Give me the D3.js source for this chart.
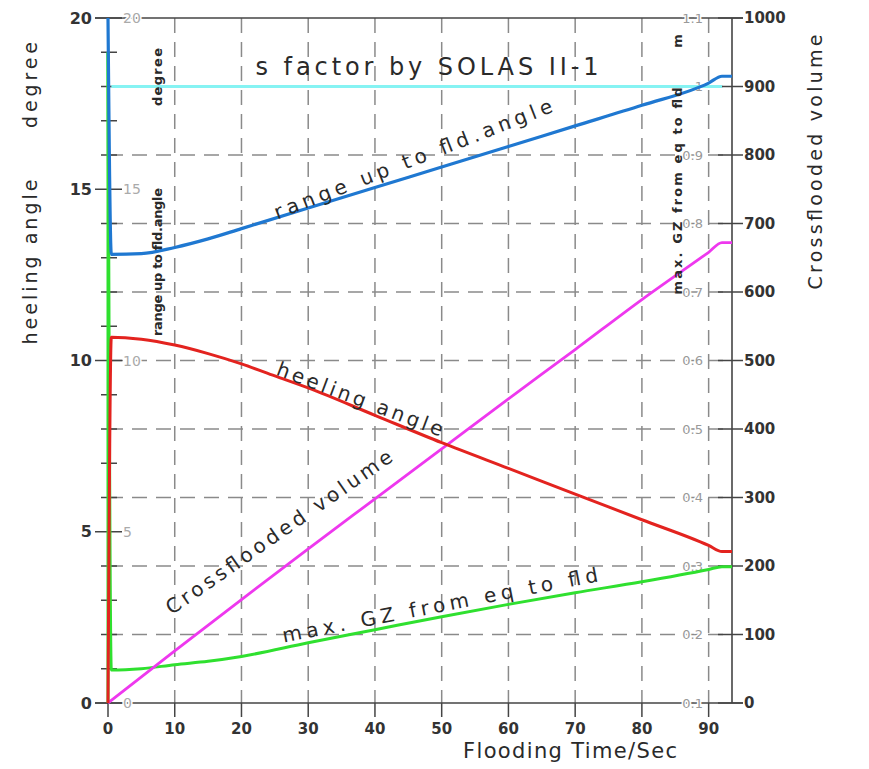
<!DOCTYPE html>
<html>
<head>
<meta charset="utf-8">
<script src="https://cdn.jsdelivr.net/npm/d3@7"></script>
<style>
  body { margin: 0; background: #fff; }
  text { font-family: "DejaVu Sans", sans-serif; }
</style>
</head>
<body>
<svg id="chart" width="869" height="769"></svg>
<script>
// flooding time (sec) ticks and axis values
var timeTicks = [0, 10, 20, 30, 40, 50, 60, 70, 80, 90];
var degTicks = [0, 5, 10, 15, 20];
var degMinor = [1, 2, 3, 4, 6, 7, 8, 9, 11, 12, 13, 14, 16, 17, 18, 19];
var degGrid = [2, 4, 6, 8, 10, 12, 14, 16, 18];
var volTicks = [0, 100, 200, 300, 400, 500, 600, 700, 800, 900, 1000];
var gzTicks = [0.1, 0.2, 0.3, 0.4, 0.5, 0.6, 0.7, 0.8, 0.9, 1.0, 1.1];
var gzLabels = ["0.1", "0.2", "0.3", "0.4", "0.5", "0.6", "0.7", "0.8", "0.9", "1", "1.1"];

// series: [time, value]
var sFactor = [[0.5, 18], [92, 18]];                       // degree axis
var rangeUpToFld = [[0, 20], [0.5, 13.1], [5, 13.12], [10, 13.3], [15, 13.55], [20, 13.85],
  [30, 14.45], [40, 15.05], [50, 15.65], [60, 16.25], [70, 16.85], [80, 17.45],
  [90, 18.1], [92, 18.3], [93.5, 18.3]];                    // degree axis
var heelingAngle = [[0, 0], [0.5, 10.68], [5, 10.62], [10, 10.45], [15, 10.2], [20, 9.9],
  [25, 9.55], [30, 9.2], [40, 8.4], [50, 7.6], [60, 6.85], [70, 6.1], [80, 5.35],
  [90, 4.6], [92, 4.42], [93.5, 4.42]];                     // degree axis
var crossVolume = [[0, 0], [10, 76], [20, 151], [30, 225], [40, 298], [50, 371],
  [60, 444], [70, 516], [80, 589], [90, 658], [92, 672], [93.5, 672]]; // volume axis
var gzRise = [[0, 0.1], [0, 1.05]];                         // GZ axis (m), at t = 0
var maxGZ = [[0, 1.05], [0.5, 0.148], [5, 0.15], [10, 0.156], [15, 0.161],
  [20, 0.168], [30, 0.188], [40, 0.207], [50, 0.226], [60, 0.244], [70, 0.261],
  [80, 0.277], [90, 0.295], [92, 0.299], [93.5, 0.299]];   // GZ axis (m)

var svg = d3.select("#chart");
var plotL = 108, plotR = 732, plotT = 18, plotB = 703;

var x = d3.scaleLinear().domain([0, 93.5]).range([plotL, plotR]);
var yDeg = d3.scaleLinear().domain([0, 20]).range([plotB, plotT]);
var yVol = d3.scaleLinear().domain([0, 1000]).range([plotB, plotT]);
var yGZ = d3.scaleLinear().domain([0.1, 1.1]).range([plotB, plotT]);

var axisColor = "#444";
var gridColor = "#8a8a8a";

// grid
svg.append("g").selectAll("line").data(timeTicks.slice(1)).join("line")
  .attr("x1", d => x(d)).attr("x2", d => x(d))
  .attr("y1", plotT).attr("y2", plotB)
  .attr("stroke", gridColor).attr("stroke-width", 1.5)
  .attr("stroke-dasharray", "15,9");

svg.append("g").selectAll("line").data(degGrid).join("line")
  .attr("x1", plotL).attr("x2", plotR)
  .attr("y1", d => yDeg(d)).attr("y2", d => yDeg(d))
  .attr("stroke", gridColor).attr("stroke-width", 1.5)
  .attr("stroke-dasharray", "15,9");

// frame
svg.append("line").attr("x1", 95).attr("x2", 743).attr("y1", plotT).attr("y2", plotT)
  .attr("stroke", axisColor).attr("stroke-width", 1.6);
svg.append("line").attr("x1", 95).attr("x2", 743).attr("y1", plotB).attr("y2", plotB)
  .attr("stroke", axisColor).attr("stroke-width", 1.6);
svg.append("line").attr("x1", plotL).attr("x2", plotL).attr("y1", plotT).attr("y2", plotB)
  .attr("stroke", axisColor).attr("stroke-width", 1.6);
svg.append("line").attr("x1", plotR).attr("x2", plotR).attr("y1", plotT).attr("y2", plotB)
  .attr("stroke", axisColor).attr("stroke-width", 1.6);

// left degree axis ticks
svg.append("g").selectAll("line").data(degMinor).join("line")
  .attr("x1", 101).attr("x2", 117)
  .attr("y1", d => yDeg(d)).attr("y2", d => yDeg(d))
  .attr("stroke", axisColor).attr("stroke-width", 1.5);
svg.append("g").selectAll("line").data(degTicks).join("line")
  .attr("x1", 95).attr("x2", 122)
  .attr("y1", d => yDeg(d)).attr("y2", d => yDeg(d))
  .attr("stroke", axisColor).attr("stroke-width", 1.5);
svg.append("g").selectAll("text").data(degTicks).join("text")
  .attr("x", 92).attr("y", d => yDeg(d))
  .attr("text-anchor", "end").attr("dominant-baseline", "central")
  .attr("font-size", 16).attr("font-weight", "bold").attr("fill", "#333")
  .text(d => d);
svg.append("g").selectAll("text").data(degTicks).join("text")
  .attr("x", 123).attr("y", d => yDeg(d))
  .attr("dominant-baseline", "central")
  .attr("font-size", 14).attr("fill", "#aaa")
  .attr("stroke", "#fff").attr("stroke-width", 3).attr("paint-order", "stroke")
  .text(d => d);

// x axis
svg.append("g").selectAll("line").data(timeTicks).join("line")
  .attr("x1", d => x(d)).attr("x2", d => x(d))
  .attr("y1", plotB).attr("y2", 717)
  .attr("stroke", axisColor).attr("stroke-width", 1.5);
svg.append("g").selectAll("text").data(timeTicks).join("text")
  .attr("x", d => x(d)).attr("y", 729)
  .attr("text-anchor", "middle").attr("dominant-baseline", "central")
  .attr("font-size", 15).attr("font-weight", "bold").attr("fill", "#333")
  .text(d => d);

// right volume axis
svg.append("g").selectAll("line").data(volTicks).join("line")
  .attr("x1", 718).attr("x2", 743)
  .attr("y1", d => yVol(d)).attr("y2", d => yVol(d))
  .attr("stroke", axisColor).attr("stroke-width", 1.5);
svg.append("g").selectAll("text").data(volTicks).join("text")
  .attr("x", 744).attr("y", d => yVol(d))
  .attr("dominant-baseline", "central")
  .attr("font-size", 15).attr("font-weight", "bold").attr("fill", "#333")
  .text(d => d);

// inner GZ axis labels
svg.append("g").selectAll("text").data(gzTicks).join("text")
  .attr("x", 703).attr("y", d => yGZ(d))
  .attr("text-anchor", "end").attr("dominant-baseline", "central")
  .attr("font-size", 13).attr("fill", "#999")
  .attr("stroke", "#fff").attr("stroke-width", 3).attr("paint-order", "stroke")
  .text((d, i) => gzLabels[i]);

// curves
function drawLine(data, yScale, color, width, curve) {
  svg.append("path").datum(data)
    .attr("fill", "none").attr("stroke", color)
    .attr("stroke-width", width).attr("stroke-linejoin", "round")
    .attr("d", d3.line().curve(curve || d3.curveLinear)
      .x(d => x(d[0])).y(d => yScale(d[1])));
}
drawLine(sFactor, yDeg, "#86f3f3", 3);
drawLine(gzRise, yGZ, "#2fe02f", 3);
drawLine(maxGZ, yGZ, "#2fe02f", 3, d3.curveMonotoneX);
drawLine(crossVolume, yVol, "#ee38ee", 2.8, d3.curveMonotoneX);
drawLine(heelingAngle, yDeg, "#e3231f", 3, d3.curveMonotoneX);
drawLine(rangeUpToFld, yDeg, "#1f78d1", 3.2, d3.curveMonotoneX);

// texts
function label(txt, cx, cy, angle, size, len, opts) {
  opts = opts || {};
  svg.append("text")
    .attr("transform", "translate(" + cx + "," + cy + ") rotate(" + angle + ")")
    .attr("text-anchor", "middle").attr("dominant-baseline", "central")
    .attr("font-size", size)
    .attr("font-weight", opts.bold ? "bold" : "normal")
    .attr("fill", opts.fill || "#2a2a2a")
    .attr("textLength", len).attr("lengthAdjust", "spacing")
    .text(txt);
}
label("s factor by SOLAS II-1", 427, 67, 0, 24, 343);
label("Flooding Time/Sec", 570, 751, 0, 21, 214);
label("degree", 30, 85, -90, 19, 86);
label("heeling angle", 30, 262, -90, 19, 165);
label("Crossflooded volume", 815, 162, -90, 19, 255);
label("degree", 157, 77, -90, 13, 58, {bold: true});
label("range up to fld.angle", 157, 262, -90, 13, 148, {bold: true});
label("m", 677, 41, -90, 13, 10, {bold: true});
label("max. GZ from eq to fld", 677, 191, -90, 13, 207, {bold: true});
label("range up to fld.angle", 413, 159, -21.3, 20, 297);
label("heeling angle", 360, 399, 20.6, 20, 176);
label("Crossflooded volume", 279, 532, -34.9, 20, 271);
label("max. GZ from eq to fld", 440, 605, -11, 20, 321);
</script>
</body>
</html>
